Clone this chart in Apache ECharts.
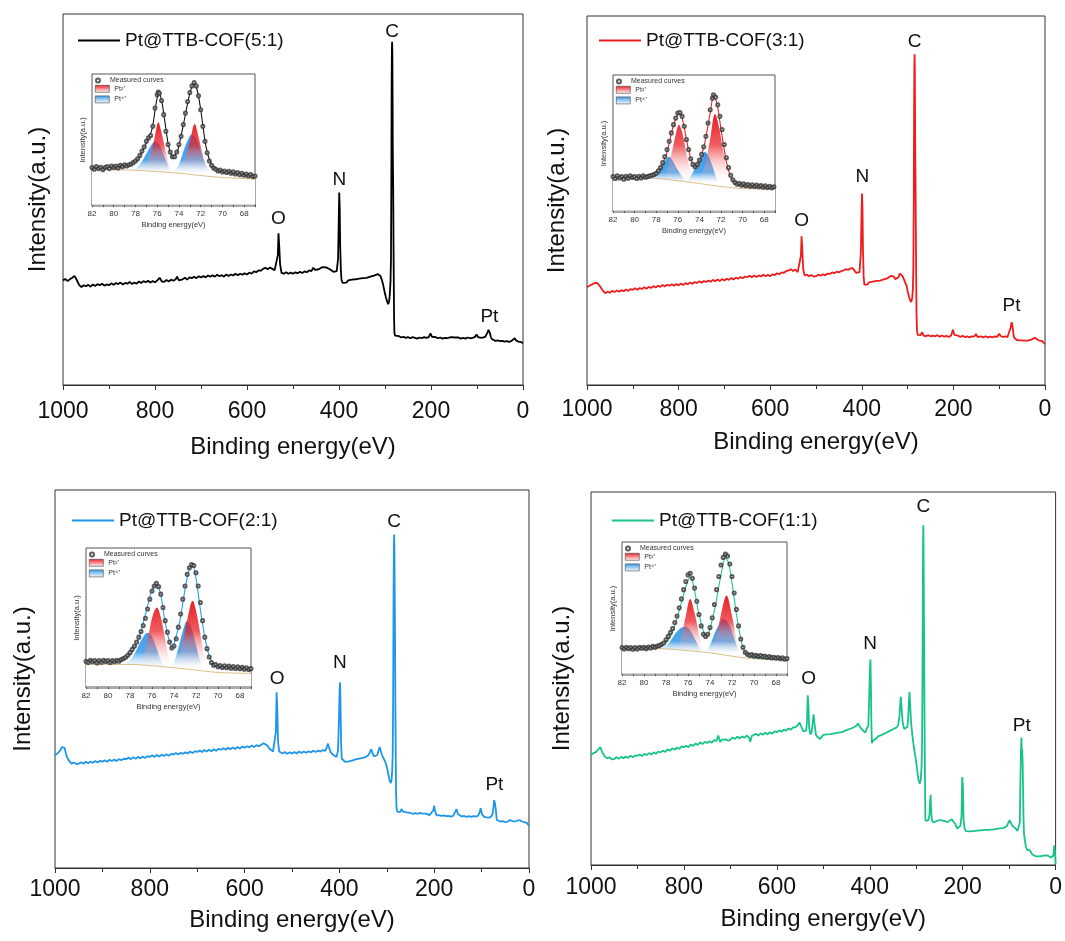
<!DOCTYPE html>
<html><head><meta charset="utf-8">
<script src="https://cdn.jsdelivr.net/npm/echarts@6/dist/echarts.min.js"></script>
<style>html,body{margin:0;padding:0;background:#fff}#c{width:1065px;height:941px}</style>
</head><body><div id="c"></div>
<script>
// ---------- DATA (binding energy eV, intensity as % of frame height) ----------
const sampleNames = ['Pt@TTB-COF(5:1)','Pt@TTB-COF(3:1)','Pt@TTB-COF(2:1)','Pt@TTB-COF(1:1)'];
const xTicks = [1000,800,600,400,200,0];
const insetTicks = [82,80,78,76,74,72,70,68];
const peakNames = ['O','N','C','Pt'];
const peakEnergies = [531.5,399,284.5,73];

const survey_5_1 = [[1000,28.2],[995,28.6],[990,28.0],[985,28.5],[980,28.9],[975,29.4],[970,28.3],[965,27.0],[960,26.4],[955,26.9],[950,26.6],[945,27.0],[940,26.5],[935,27.1],[930,26.7],[925,27.2],[920,26.9],[915,27.3],[910,26.8],[905,27.1],[900,26.9],[895,27.4],[890,27.0],[885,27.5],[880,27.2],[875,27.6],[870,27.1],[865,27.5],[860,27.3],[855,27.8],[850,27.2],[845,27.6],[840,27.3],[835,27.9],[830,27.5],[825,28.0],[820,27.7],[815,28.1],[810,27.6],[805,28.0],[800,27.7],[795,28.2],[790,28.9],[785,27.9],[780,27.8],[775,28.3],[770,27.9],[765,28.4],[760,28.1],[755,28.5],[752,29.2],[748,28.2],[740,28.5],[735,28.9],[730,28.4],[725,29.0],[720,28.8],[715,29.2],[710,28.8],[705,29.3],[700,29.0],[695,29.4],[690,29.0],[685,29.5],[680,29.2],[675,29.6],[670,29.2],[665,29.7],[660,29.3],[655,29.6],[650,29.2],[645,29.8],[640,29.4],[635,29.8],[630,29.5],[625,30.0],[620,29.6],[615,30.0],[610,29.7],[605,30.1],[600,29.8],[595,30.3],[590,30.0],[585,30.6],[580,30.4],[575,30.9],[570,30.8],[565,31.3],[560,31.6],[555,31.2],[550,31.7],[545,31.3],[540,30.9],[536,31.0],[533,35.0],[531.5,40.9],[530,37.5],[528,32.5],[525,30.2],[520,30.0],[515,30.4],[510,30.0],[505,30.3],[500,30.0],[495,30.4],[490,30.1],[485,30.5],[480,30.2],[475,30.6],[470,30.4],[465,30.9],[460,30.7],[456,31.6],[452,31.0],[448,30.8],[444,31.2],[440,31.0],[436,31.8],[432,31.5],[428,31.7],[424,31.4],[420,31.2],[416,30.8],[412,30.5],[408,30.2],[405,30.7],[402,34.0],[400.5,45.0],[399.5,51.9],[398.5,48.0],[397.5,38.0],[396,31.0],[394.5,28.3],[392,27.5],[388,28.0],[384,27.6],[380,28.2],[376,27.9],[372,28.4],[368,28.0],[364,28.5],[360,28.3],[356,28.7],[352,28.4],[348,28.8],[344,28.6],[340,28.9],[336,28.8],[332,29.2],[328,29.0],[324,29.5],[320,29.4],[316,29.9],[313,29.9],[310,29.4],[307,28.4],[304,27.0],[301,25.2],[298,23.6],[295,22.4],[293,21.8],[291,22.6],[289.5,24.5],[288,28.0],[287,34.0],[286.2,55.0],[285.6,80.0],[285,90.3],[284.5,92.5],[284,89.0],[283.5,78.0],[283.1,64.1],[282.6,58.0],[282.2,53.2],[281.6,40.0],[281,30.0],[280.3,18.1],[279.5,14.0],[278,13.3],[275,13.0],[270,13.2],[265,12.8],[260,13.0],[255,12.7],[250,12.9],[245,12.6],[240,12.9],[235,12.7],[230,12.5],[225,12.8],[220,12.6],[215,12.9],[210,12.7],[205,12.9],[201,13.9],[198,13.0],[195,12.7],[190,12.9],[185,12.6],[180,12.8],[175,12.5],[170,12.7],[165,12.6],[160,12.8],[155,12.9],[152,13.4],[149,12.8],[145,12.6],[140,12.8],[135,12.5],[130,12.7],[125,12.5],[120,12.8],[115,12.6],[110,12.7],[105,12.9],[101,13.6],[98,12.9],[94,12.8],[90,12.7],[86,12.9],[82,13.0],[79,13.4],[77,14.2],[75,14.9],[73.5,14.6],[72,14.0],[70,13.0],[68,12.4],[65,12.1],[60,11.9],[55,12.0],[50,11.8],[45,11.9],[40,11.7],[35,11.8],[30,11.6],[25,11.9],[21,12.4],[18,12.6],[15,12.0],[10,11.7],[5,11.6],[2,11.2],[0,11.3]];

const survey_3_1 = [[1000,26.5],[995,26.9],[990,27.2],[985,27.6],[978,27.7],[972,26.8],[965,25.5],[960,24.9],[955,25.3],[950,25.0],[945,25.5],[940,25.2],[935,25.6],[930,25.3],[925,25.7],[920,25.4],[915,25.9],[910,25.5],[905,26.0],[900,25.8],[895,26.2],[890,25.8],[885,26.3],[880,26.0],[875,26.5],[870,26.1],[865,26.6],[860,26.3],[855,26.8],[850,26.4],[845,26.9],[840,26.6],[835,27.1],[830,26.7],[825,27.2],[820,26.9],[815,27.3],[810,26.9],[805,27.4],[800,27.0],[795,27.5],[790,27.1],[785,27.6],[780,27.3],[775,27.8],[770,27.4],[765,27.9],[760,27.6],[755,28.1],[750,27.7],[745,28.2],[740,27.9],[735,28.3],[730,28.0],[725,28.5],[720,28.1],[715,28.6],[710,28.2],[705,28.7],[700,28.3],[695,28.8],[690,28.5],[685,29.0],[680,28.6],[675,29.1],[670,28.8],[665,29.3],[660,28.9],[655,29.4],[650,29.2],[645,29.6],[640,29.2],[635,29.7],[630,29.3],[625,29.7],[620,29.4],[615,29.9],[610,29.5],[605,29.9],[600,29.5],[595,30.0],[590,29.8],[585,30.3],[580,30.0],[575,30.5],[570,30.4],[565,30.9],[560,31.0],[555,31.4],[550,30.9],[545,31.3],[540,30.6],[536,30.8],[533,35.0],[531.5,40.3],[530,37.0],[528,31.5],[525,29.7],[520,29.9],[515,29.5],[510,29.8],[505,29.4],[500,29.5],[495,29.9],[490,29.6],[485,30.0],[480,29.7],[475,30.2],[470,30.1],[465,30.5],[460,30.3],[455,30.7],[450,30.5],[445,30.9],[440,31.0],[435,31.4],[430,31.2],[425,31.6],[420,31.7],[416,31.0],[412,30.4],[408,30.1],[405,30.6],[402,36.0],[400.5,47.0],[399.5,51.9],[398.5,48.0],[397.5,37.0],[396,29.5],[394.5,27.2],[392,27.6],[388,27.2],[384,27.8],[380,27.5],[376,28.0],[372,27.7],[368,28.2],[364,27.9],[360,28.3],[356,28.1],[352,28.6],[348,28.4],[344,28.9],[340,29.0],[336,29.6],[333,30.1],[330,29.4],[327,28.7],[324,28.5],[320,29.2],[317,30.2],[314,30.6],[311,29.5],[308,28.6],[305,28.1],[302,26.8],[300,25.4],[297,24.0],[295,23.1],[292,22.5],[290,23.5],[288.5,26.0],[287.5,31.0],[286.5,50.0],[285.8,75.0],[285.2,87.0],[284.7,89.6],[284.2,85.0],[283.7,72.0],[283.2,61.6],[282.6,55.0],[282,42.0],[281.3,30.0],[280.5,19.0],[279.5,14.8],[278,13.6],[275,13.8],[272,13.5],[268,14.3],[265,13.4],[260,13.2],[255,13.5],[250,13.2],[245,13.4],[240,13.2],[235,13.5],[230,13.1],[225,13.4],[220,13.1],[215,13.3],[210,13.0],[205,13.4],[201,15.0],[198,13.6],[195,13.1],[190,13.4],[185,13.0],[180,13.3],[175,13.0],[170,13.2],[165,12.9],[160,13.2],[155,13.1],[151,13.8],[147,13.0],[140,13.2],[135,12.9],[130,13.2],[125,12.9],[120,13.1],[115,12.9],[110,13.2],[105,13.0],[100,13.9],[97,13.3],[92,13.0],[87,13.2],[82,13.0],[78,13.4],[75,15.5],[73,17.0],[71.5,16.4],[70,15.0],[68,13.0],[66,12.6],[62,12.2],[58,12.4],[54,12.1],[50,12.3],[46,12.0],[42,12.2],[38,12.0],[34,12.2],[30,12.3],[26,12.7],[22,12.8],[18,12.4],[14,12.1],[10,12.0],[6,11.9],[3,11.5],[0,11.1]];

const survey_2_1 = [[1000,29.8],[995,30.3],[990,30.9],[985,32.0],[980,31.8],[975,29.4],[970,28.3],[965,27.6],[960,27.9],[955,27.5],[950,27.6],[945,28.0],[940,27.6],[935,28.1],[930,27.7],[925,28.2],[920,27.8],[915,28.3],[910,27.9],[905,28.4],[900,28.1],[895,28.5],[890,28.1],[885,28.6],[880,28.3],[875,28.7],[870,28.3],[865,28.8],[860,28.5],[855,28.9],[850,28.8],[845,29.2],[840,28.8],[835,29.3],[830,28.9],[825,29.4],[820,29.0],[815,29.5],[810,29.1],[805,29.6],[800,29.4],[795,29.8],[790,29.4],[785,29.9],[780,29.5],[775,30.0],[770,29.6],[765,30.1],[760,29.7],[755,30.2],[750,30.0],[745,30.4],[740,30.0],[735,30.5],[730,30.2],[725,30.6],[720,30.3],[715,30.8],[710,30.4],[705,30.9],[700,30.7],[695,31.1],[690,30.7],[685,31.2],[680,30.8],[675,31.3],[670,30.9],[665,31.4],[660,31.0],[655,31.5],[650,31.3],[645,31.7],[640,31.3],[635,31.8],[630,31.4],[625,31.9],[620,31.5],[615,32.0],[610,31.6],[605,32.1],[600,31.8],[595,32.2],[590,31.9],[585,32.4],[580,32.0],[575,32.5],[570,32.2],[565,32.6],[560,33.0],[556,33.2],[552,32.4],[548,31.6],[544,31.1],[540,30.8],[536,31.2],[534,36.0],[532.5,46.5],[531,42.0],[529.5,33.5],[527,30.8],[524,30.5],[520,30.3],[515,30.7],[510,30.2],[505,30.6],[500,30.3],[495,30.7],[490,30.3],[485,30.8],[480,30.4],[475,30.8],[470,30.5],[465,30.9],[460,30.6],[455,31.0],[450,30.7],[445,31.1],[440,30.8],[435,31.2],[430,31.0],[427,31.8],[424,32.9],[421,31.5],[418,30.6],[414,30.0],[410,29.6],[406,29.4],[403,31.0],[401,39.0],[399.5,47.5],[398.5,49.1],[397.5,42.0],[396.5,33.0],[395,28.9],[392,28.5],[388,28.1],[384,28.4],[380,28.2],[376,28.6],[372,28.5],[368,28.9],[364,28.8],[360,29.1],[356,29.0],[352,29.4],[348,29.2],[344,29.6],[340,29.7],[336,30.5],[333,31.4],[330,30.3],[327,29.5],[323,29.3],[320,29.9],[317,31.2],[315,32.0],[312,30.6],[309,29.5],[306,28.8],[303,28.0],[300,26.8],[297,25.0],[295,23.7],[292,22.4],[290,23.2],[288.5,26.0],[287.5,30.5],[286.6,45.0],[285.8,70.0],[285.1,84.0],[284.5,88.2],[284,85.0],[283.5,76.0],[283,67.5],[282.5,58.0],[282,46.0],[281.3,32.0],[280.5,20.0],[279.5,16.0],[278,14.9],[275,15.1],[272,14.8],[269,15.6],[266,14.9],[262,14.5],[258,14.7],[254,14.4],[250,14.6],[245,14.3],[240,14.5],[235,14.3],[230,14.6],[225,14.4],[222,14.8],[218,14.4],[214,14.1],[210,14.0],[206,14.3],[202,15.2],[200,16.5],[198,15.0],[195,13.9],[190,14.0],[185,13.8],[180,13.9],[175,13.7],[170,13.8],[165,13.6],[160,13.8],[156,14.2],[153,15.6],[150,14.3],[147,13.8],[142,13.6],[137,13.8],[132,13.5],[127,13.7],[122,13.5],[117,13.7],[112,13.6],[107,13.9],[104,14.8],[102,15.8],[99,14.2],[95,13.6],[90,13.4],[85,13.3],[80,13.6],[77,14.2],[75,16.0],[73.5,18.0],[72,17.2],[70,15.5],[68,12.7],[65,12.5],[60,12.3],[55,12.4],[50,12.1],[45,12.3],[40,12.7],[35,12.4],[30,12.3],[25,12.5],[20,12.7],[15,12.3],[10,12.1],[5,12.0],[2,11.5],[0,11.2]];

const survey_1_1 = [[1000,29.5],[995,30.0],[990,30.2],[985,30.9],[980,31.6],[975,30.0],[970,29.0],[965,28.6],[960,28.9],[955,28.3],[950,28.4],[945,28.9],[940,28.5],[935,29.0],[930,28.6],[925,29.1],[920,28.7],[915,29.3],[910,28.9],[905,29.4],[900,29.3],[895,29.6],[890,29.2],[885,29.8],[880,29.5],[875,30.0],[870,29.6],[865,30.2],[860,29.8],[855,30.4],[850,30.2],[845,30.7],[840,30.3],[835,31.0],[830,30.6],[825,31.3],[820,30.9],[815,31.5],[810,31.1],[805,31.8],[800,31.6],[795,32.0],[790,31.6],[785,32.3],[780,31.9],[775,32.6],[770,32.2],[765,32.9],[760,32.4],[755,33.0],[750,32.7],[745,33.2],[740,32.8],[735,33.5],[730,33.2],[726,34.7],[722,33.0],[718,33.6],[714,33.1],[710,33.7],[705,33.3],[700,33.6],[695,34.2],[690,33.8],[685,34.4],[680,33.9],[675,34.5],[670,34.1],[665,34.7],[660,34.2],[657,33.0],[654,34.6],[650,34.8],[645,35.2],[640,34.7],[635,35.3],[630,34.9],[625,35.5],[620,35.0],[615,35.6],[610,35.2],[605,35.8],[600,35.6],[595,36.1],[590,35.7],[585,36.3],[580,36.0],[575,36.6],[570,36.3],[565,36.9],[560,36.9],[555,37.5],[551,38.2],[547,37.0],[543,35.8],[540,35.5],[537,36.0],[535,38.5],[533.5,45.5],[532,43.0],[530.5,37.0],[528,35.0],[525,35.6],[522.5,38.5],[521,40.4],[519,38.0],[516,35.0],[513,34.4],[510,34.0],[507,33.8],[504,34.3],[500,34.9],[496,34.5],[492,35.0],[488,34.6],[484,35.1],[480,34.9],[476,35.3],[472,34.9],[468,35.5],[464,35.1],[460,35.6],[456,35.6],[452,36.1],[448,35.8],[444,36.4],[440,36.4],[436,36.8],[432,37.1],[428,37.4],[425,38.0],[422,37.2],[418,36.5],[414,36.2],[410,35.5],[406,35.6],[403,37.5],[401,46.0],[399.5,53.0],[398.5,55.1],[397.5,48.0],[396.5,38.0],[395.5,32.7],[393,33.3],[390,33.6],[386,33.9],[382,34.5],[378,34.3],[374,34.9],[370,34.8],[366,35.4],[362,35.3],[358,35.9],[354,35.8],[350,36.4],[346,36.5],[342,36.9],[339,37.5],[336,40.0],[334,44.0],[333,45.1],[331.5,42.0],[329,38.0],[326,36.5],[322,36.0],[319,37.0],[317,40.0],[315.5,44.5],[314.5,46.4],[313,43.0],[311,38.0],[308,34.5],[305,31.5],[302,29.2],[300,27.6],[297,24.5],[295,22.7],[292,21.8],[290,23.0],[288.5,26.5],[287.5,31.5],[286.6,48.0],[285.8,72.0],[285.2,87.0],[284.7,91.1],[284.2,86.0],[283.6,72.0],[283,58.7],[282.4,45.0],[281.6,30.0],[281,21.0],[280.3,12.4],[279,11.8],[277,11.6],[274,12.0],[271.5,13.5],[270,17.0],[269,18.8],[268,15.0],[266.5,12.0],[263,11.4],[260,11.4],[256,11.8],[252,11.6],[248,12.0],[244,11.7],[240,11.8],[236,12.1],[232,11.5],[228,11.9],[224,12.3],[220,12.0],[216,11.0],[212,9.8],[208,10.2],[205,10.5],[202.5,13.0],[201,23.6],[199.5,21.0],[198,12.0],[196,9.8],[193,9.1],[189,9.4],[185,9.0],[181,9.3],[177,9.1],[173,9.4],[169,9.2],[165,9.5],[161,9.3],[157,9.6],[153,9.4],[149,9.6],[145,9.4],[141,9.7],[137,9.5],[133,9.8],[129,9.6],[125,9.9],[121,9.8],[117,10.0],[113,9.9],[109,10.1],[105,10.4],[102,11.2],[99,12.0],[96,11.6],[93,10.5],[90,10.7],[86,9.8],[82,9.1],[79,9.6],[77,11.5],[75.5,25.0],[74.5,30.4],[73.5,34.2],[72.8,30.0],[72,31.1],[71,28.0],[70,20.4],[69,12.0],[68,8.4],[66,6.5],[64,4.9],[61,4.0],[58,3.6],[56,4.0],[54,4.4],[52,3.5],[50,2.8],[46,2.4],[42,2.3],[38,2.1],[34,2.3],[30,2.7],[26,2.5],[22,2.9],[18,2.6],[14,2.1],[10,2.0],[7,1.9],[5,2.5],[3,5.2],[1.5,3.6],[0,0.2]];

// ---- Pt 4f insets (eV, intensity % of inset height) ----
const measured_5_1 = [[82,28.4],[81.8,27.1],[81.6,29.1],[81.4,27.6],[81.2,28.6],[81,26.8],[80.8,28.4],[80.6,29.1],[80.4,27.6],[80.2,29.6],[80,28.4],[79.8,29.6],[79.6,28.1],[79.4,30.1],[79.2,29.1],[79,30.6],[78.8,29.6],[78.6,30.6],[78.4,31.1],[78.2,32.2],[78,33.4],[77.8,35.2],[77.6,37.7],[77.4,41.0],[77.2,44.3],[77,48.6],[76.8,51.1],[76.6,52.9],[76.4,60.0],[76.2,73.9],[76,84.1],[75.9,86.1],[75.8,85.3],[75.6,79.7],[75.4,68.9],[75.2,56.2],[75,46.1],[74.8,40.3],[74.6,36.7],[74.4,36.7],[74.2,40.3],[74,46.1],[73.8,52.4],[73.6,61.3],[73.4,70.1],[73.2,79.0],[73,85.8],[72.8,90.9],[72.6,93.4],[72.4,90.9],[72.2,83.3],[72,72.7],[71.8,60.0],[71.6,48.6],[71.4,39.7],[71.2,33.4],[71,30.1],[70.8,28.1],[70.6,27.1],[70.4,25.8],[70.2,26.6],[70,25.1],[69.8,25.8],[69.6,24.6],[69.4,25.6],[69.2,24.1],[69,25.1],[68.8,23.5],[68.6,24.6],[68.4,23.0],[68.2,24.1],[68,22.5],[67.8,23.5],[67.6,22.0],[67.4,23.0],[67.2,21.5],[67,22.0]];
const fit_5_1 = [[82,28.5],[81,28.4],[80,28.7],[79,29.6],[78.5,30.6],[78,33],[77.5,38.5],[77,47],[76.5,57],[76.2,72],[76,82],[75.85,85.5],[75.6,80],[75.3,64],[75,47],[74.7,38],[74.5,37],[74.2,40],[74,45],[73.5,65],[73,85],[72.6,92.5],[72.3,87],[72,73],[71.5,44],[71,30.5],[70.5,26.5],[70,25.3],[69,24.4],[68,23.2],[67,22.2]];
const pt2_5_1 = [[78,26.3],[77.5,27.5],[77,31],[76.5,42],[76.2,53],[75.9,63],[75.6,55],[75.2,40],[74.8,28],[74.6,24.5],[74.2,25],[74,27],[73.5,34],[73,48],[72.55,61.8],[72.2,52],[71.8,38],[71.4,27],[71,22.5],[70.5,21.2]];
const pt4_5_1 = [[78.5,26.6],[78,27.5],[77.5,32],[77,39],[76.5,46],[76.2,48.6],[75.8,46],[75.4,38],[75,30],[74.7,24.4],[74.5,25.5],[74,31],[73.5,43],[73,52.5],[72.8,53.7],[72.4,50],[72,42],[71.5,30],[71,23],[70.5,21]];
const bg_5_1 = [[82,27.1],[80,26.8],[78,26.3],[76,25.3],[74,24.1],[72,22.3],[70,20.8],[68,20.0],[67,19.5]];

const measured_3_1 = [[82,25.1],[81.8,23.7],[81.6,25.6],[81.4,24.1],[81.2,25.1],[81,23.2],[80.8,25.4],[80.6,23.9],[80.4,25.6],[80.2,24.4],[80,25.1],[79.8,23.7],[79.6,25.4],[79.4,24.1],[79.2,25.6],[79,24.6],[78.8,25.1],[78.6,25.6],[78.4,26.1],[78.2,26.6],[78,27.6],[77.8,29.3],[77.6,31.7],[77.4,35.4],[77.2,39.8],[77,45.1],[76.8,51.2],[76.6,57.3],[76.4,63.4],[76.2,68.3],[76,72.0],[75.8,72.4],[75.6,69.5],[75.4,62.2],[75.2,52.4],[75,45.1],[74.8,38.3],[74.6,34.1],[74.4,32.4],[74.2,34.1],[74,37.3],[73.8,41.5],[73.6,47.1],[73.4,54.9],[73.2,64.6],[73,74.4],[72.8,82.9],[72.7,85.4],[72.5,83.7],[72.3,78.0],[72.1,69.5],[71.9,59.8],[71.7,48.8],[71.5,39.0],[71.3,31.7],[71.1,26.1],[70.9,22.7],[70.7,20.7],[70.5,19.5],[70.3,20.2],[70.1,18.8],[69.9,19.8],[69.7,18.3],[69.5,19.3],[69.3,18.0],[69.1,19.0],[68.9,17.8],[68.7,18.8],[68.5,17.6],[68.3,18.5],[68.1,17.3],[67.9,18.3],[67.7,17.1],[67.5,18.0],[67.3,16.8],[67.1,17.6]];
const fit_3_1 = [[82,25],[80,25],[79,25.5],[78.5,26.5],[78,28.5],[77.5,33],[77,43],[76.5,60],[76,71],[75.8,72],[75.5,65],[75,45],[74.5,33],[74.2,33.5],[74,36],[73.5,50],[73,72],[72.7,84],[72.4,80],[72,60],[71.5,36],[71,23],[70.5,19],[70,18],[69,17.5],[68,17],[67,16.8]];
const pt2_3_1 = [[77.5,23.8],[77,30],[76.5,45],[76.2,56],[75.9,63.4],[75.6,58],[75.2,42],[74.8,28],[74.5,21.2],[74,24],[73.5,33],[73,53],[72.55,71.2],[72.2,62],[71.8,44],[71.4,28],[71,19.5],[70.5,17]];
const pt4_3_1 = [[78.5,24],[78,27],[77.5,33],[77,38.5],[76.8,39.8],[76.5,37],[76,30],[75.5,24],[75.2,21.8],[75,23],[74.5,30],[74,38],[73.5,43.2],[73.2,41],[72.8,33],[72.4,24],[72,19],[71.5,17.5]];
const bg_3_1 = [[82,24.4],[80,24.2],[78,23.7],[76,22.0],[74,20.0],[72,17.8],[70,16.3],[68,16.0],[67,15.9]];

const measured_2_1 = [[82,18.3],[81.8,17.4],[81.6,19.0],[81.4,17.9],[81.2,18.8],[81,17.1],[80.8,18.8],[80.6,17.6],[80.4,19.0],[80.2,18.1],[80,18.8],[79.8,17.4],[79.6,18.8],[79.4,17.9],[79.2,19.0],[79,18.3],[78.8,19.5],[78.6,20.2],[78.4,21.2],[78.2,22.6],[78,24.5],[77.8,26.9],[77.6,29.3],[77.4,32.1],[77.2,35.7],[77,39.8],[76.8,44.0],[76.6,49.3],[76.4,56.0],[76.2,63.1],[76,69.0],[75.8,72.6],[75.6,74.5],[75.4,72.1],[75.2,66.7],[75,57.1],[74.8,47.6],[74.6,39.3],[74.4,32.1],[74.2,27.9],[74,29.3],[73.8,34.5],[73.6,42.9],[73.4,52.4],[73.2,63.1],[73,72.6],[72.8,81.0],[72.6,85.7],[72.4,88.1],[72.2,87.4],[72,82.1],[71.8,72.6],[71.6,60.7],[71.4,47.6],[71.2,35.7],[71,27.4],[70.8,21.4],[70.6,17.4],[70.4,15.5],[70.2,16.0],[70,14.3],[69.8,15.2],[69.6,13.8],[69.4,15.0],[69.2,13.6],[69,14.8],[68.8,13.3],[68.6,14.5],[68.4,13.1],[68.2,14.3],[68,12.9],[67.8,14.0],[67.6,12.6],[67.4,13.6],[67.2,12.4],[67,13.1]];
const fit_2_1 = [[82,18],[80,18],[79,18.5],[78.5,20],[78,23],[77.5,29],[77,40],[76.5,55],[76,70],[75.6,74],[75.2,66],[74.8,46],[74.4,32],[74.2,29],[74,31],[73.5,46],[73,70],[72.6,85],[72.3,87],[72,78],[71.5,50],[71,28],[70.5,17],[70,14.5],[69,13.5],[68,13],[67,12.5]];
const pt2_2_1 = [[77,16],[76.5,30],[76.2,42],[75.9,52],[75.55,57.1],[75.2,50],[74.8,34],[74.4,18],[74.1,13.5],[73.6,20],[73.2,32],[72.8,48],[72.3,61.9],[72,55],[71.6,38],[71.2,20],[70.8,12],[70.4,10.5]];
const pt4_2_1 = [[78.5,16],[78,19],[77.5,25],[77,33],[76.4,38.8],[76,36],[75.6,28],[75.2,19],[74.8,14.5],[74.4,14],[74,18],[73.6,28],[73.2,40],[72.8,47.6],[72.4,42],[72,30],[71.6,18],[71.2,12],[70.8,10.5]];
const bg_2_1 = [[82,16.0],[80,16.0],[78,16.0],[76,15.0],[74,13.6],[72,11.9],[70,10.2],[68,9.7],[67,9.5]];

const measured_1_1 = [[82,19.8],[81.8,18.8],[81.6,20.0],[81.4,19.0],[81.2,19.8],[81,18.5],[80.8,19.8],[80.6,18.8],[80.4,20.0],[80.2,19.3],[80,20.0],[79.8,19.0],[79.6,20.3],[79.4,19.5],[79.2,20.8],[79,20.0],[78.8,21.0],[78.6,21.3],[78.4,22.3],[78.2,23.3],[78,25.8],[77.8,28.3],[77.6,31.3],[77.4,34.3],[77.2,38.8],[77,43.8],[76.8,50.0],[76.6,56.8],[76.4,63.8],[76.2,70.0],[76,75.0],[75.8,76.3],[75.6,72.5],[75.4,65.0],[75.2,55.0],[75,45.0],[74.8,36.3],[74.6,30.0],[74.4,28.3],[74.2,30.0],[74,35.0],[73.8,42.5],[73.6,52.5],[73.4,63.8],[73.2,73.8],[73,82.5],[72.8,88.3],[72.6,90.8],[72.4,89.3],[72.2,83.3],[72,73.8],[71.8,61.3],[71.6,48.8],[71.4,36.3],[71.2,26.3],[71,20.0],[70.8,16.3],[70.6,14.8],[70.4,14.0],[70.2,14.5],[70,13.5],[69.8,14.0],[69.6,13.0],[69.4,13.8],[69.2,12.8],[69,13.3],[68.8,12.3],[68.6,13.0],[68.4,12.0],[68.2,12.5],[68,11.8],[67.8,12.3],[67.6,11.3],[67.4,12.0],[67.2,11.0],[67,11.5]];
const fit_1_1 = [[82,19.5],[80,19.5],[79,20],[78.5,21],[78,24],[77.5,30],[77,42],[76.5,57],[76,71],[75.8,73],[75.5,67],[75,45],[74.5,30],[74.3,29],[74,34],[73.5,52],[73,75],[72.6,88],[72.3,84],[72,69],[71.5,40],[71,20],[70.5,13],[70,12],[69,11.5],[68,11],[67,10.8]];
const pt2_1_1 = [[77.2,18.5],[77,19.5],[76.6,28],[76.2,44],[75.8,56.8],[75.4,46],[75,30],[74.6,17],[74.3,16],[73.8,19],[73.4,29],[73,45],[72.5,59.3],[72,44],[71.6,26],[71.2,15],[70.8,12]];
const pt4_1_1 = [[78.5,19],[78,21],[77.5,26],[77,32],[76.3,35.8],[75.8,33],[75.3,25],[74.8,17.5],[74.5,16.2],[74,22],[73.5,32],[73,40],[72.75,41.8],[72.3,38],[71.8,27],[71.3,16],[70.8,12]];
const bg_1_1 = [[82,19.3],[80,19.1],[78,18.8],[76,17.5],[74,15.8],[72,13.3],[70,11.3],[68,10.9],[67,10.8]];

// ---------- LAYOUT / STYLE ----------
const FONT = '"Liberation Sans", Arial, Helvetica, sans-serif';
const panels = [
  {name:sampleNames[0], color:'#000000', fit:'#111111', survey:survey_5_1, meas:measured_5_1, fitD:fit_5_1, pt2:pt2_5_1, pt4:pt4_5_1, bg:bg_5_1,
   grid:{left:63,top:14,width:460,height:371}, inset:{left:92,top:74,width:163,height:132},
   lab:{margin:15,gap:50,ygap:13}, leg:{left:78,top:31}, dist:[4.5,2.5,0,2.5]},
  {name:sampleNames[1], color:'#ee1c1c', fit:'#e8232a', survey:survey_3_1, meas:measured_3_1, fitD:fit_3_1, pt2:pt2_3_1, pt4:pt4_3_1, bg:bg_3_1,
   grid:{left:587,top:16,width:458,height:369}, inset:{left:613,top:75,width:162,height:137},
   lab:{margin:13,gap:45,ygap:18}, leg:{left:599,top:31}, dist:[5.5,6.5,2.5,6.5]},
  {name:sampleNames[2], color:'#1e96ea', fit:'#2aa0f0', survey:survey_2_1, meas:measured_2_1, fitD:fit_2_1, pt2:pt2_2_1, pt4:pt4_2_1, bg:bg_2_1,
   grid:{left:55,top:490,width:474,height:378}, inset:{left:86,top:548,width:165,height:140},
   lab:{margin:10,gap:40,ygap:20}, leg:{left:72,top:511}, dist:[3.5,10,2.5,5.5]},
  {name:sampleNames[3], color:'#17c38b', fit:'#20c890', survey:survey_1_1, meas:measured_1_1, fitD:fit_1_1, pt2:pt2_1_1, pt4:pt4_1_1, bg:bg_1_1,
   grid:{left:591,top:492,width:469,height:373}, inset:{left:622,top:542,width:165,height:133},
   lab:{margin:11,gap:42,ygap:17}, leg:{left:612,top:511}, dist:[6.5,5.5,8.5,1.5]}
];

function peakValue(data, x){
  let best = -Infinity;
  data.forEach(p => { if (Math.abs(p[0]-x) <= 2.5 && p[1] > best) best = p[1]; });
  return best;
}
function maxOf(d){ return Math.max.apply(null, d.map(p=>p[1])); }
function meanOf(d){ return d.reduce((s,p)=>s+p[1],0)/d.length; }
function fade(rgb, stop, mid, midAlpha, endAlpha){
  const s = Math.max(0.1,Math.min(0.95,stop));
  return new echarts.graphic.LinearGradient(0,0,0,1,[
    {offset:0, color:'rgba('+rgb+',1)'},
    {offset:s*mid, color:'rgba('+rgb+','+midAlpha+')'},
    {offset:s, color:'rgba(255,255,255,'+endAlpha+')'},
    {offset:1, color:'rgba(255,255,255,0)'}]);
}
const RED='234,30,36', BLUE='52,152,232';

const grid=[], xAxis=[], yAxis=[], series=[], legend=[];
panels.forEach((p,i)=>{
  grid.push(Object.assign({show:true, borderColor:'#333', borderWidth:1, backgroundColor:'#fff'}, p.grid));
  xAxis.push({type:'value', gridIndex:i, min:0, max:1000, interval:200, inverse:true,
    name:'Binding energy(eV)', nameLocation:'middle', nameGap:p.lab.gap,
    nameTextStyle:{fontSize:24, color:'#111', fontFamily:FONT},
    axisLine:{show:true, lineStyle:{color:'#333', width:1}},
    axisTick:{show:true, length:5, lineStyle:{color:'#333'}},
    minorTick:{show:true, splitNumber:2, length:4, lineStyle:{color:'#333'}},
    splitLine:{show:false},
    axisLabel:{fontSize:23, color:'#111', fontFamily:FONT, margin:p.lab.margin,
      formatter:v=> xTicks.indexOf(v)>=0 ? String(v) : ''}});
  yAxis.push({type:'value', gridIndex:i, min:0, max:100,
    name:'Intensity(a.u.)', nameLocation:'middle', nameGap:p.lab.ygap,
    nameTextStyle:{fontSize:24, color:'#111', fontFamily:FONT},
    axisLine:{show:false}, axisTick:{show:false}, axisLabel:{show:false}, splitLine:{show:false}});
  series.push({type:'line', name:p.name, xAxisIndex:i, yAxisIndex:i, data:p.survey,
    showSymbol:false, symbol:'none', lineStyle:{color:p.color, width:1.8}, itemStyle:{color:p.color},
    z:2, silent:true,
    markPoint:{symbol:'circle', symbolSize:1, itemStyle:{color:'rgba(0,0,0,0)'},
      label:{show:true, position:'top', formatter:'{b}', fontSize:19, color:'#111', fontFamily:FONT},
      data: peakNames.map((n,k)=>({name:n, coord:[peakEnergies[k], peakValue(p.survey, peakEnergies[k])],
        label:{distance:p.dist[k]}}))}});
  legend.push({left:p.leg.left, top:p.leg.top, padding:0, selectedMode:false, itemWidth:42, itemHeight:2,
    textStyle:{fontSize:19, color:'#111', fontFamily:FONT},
    data:[{name:p.name, icon:'rect'}]});
});
panels.forEach((p,i)=>{
  const gi = 4+i;
  grid.push(Object.assign({show:true, borderColor:'#555', borderWidth:1, backgroundColor:'#fff'}, p.inset));
  xAxis.push({type:'value', gridIndex:gi, min:67, max:82, interval:1, inverse:true,
    name:'Binding energy(eV)', nameLocation:'middle', nameGap:15,
    nameTextStyle:{fontSize:7.5, color:'#333', fontFamily:FONT},
    axisLine:{show:true, lineStyle:{color:'#555', width:1}},
    axisTick:{show:true, length:2.5, lineStyle:{color:'#555'}},
    splitLine:{show:false},
    axisLabel:{fontSize:8, color:'#333', fontFamily:FONT, margin:4,
      formatter:v=> insetTicks.indexOf(v)>=0 ? String(v) : ''}});
  yAxis.push({type:'value', gridIndex:gi, min:-1, max:100,
    name:'Intensity(a.u.)', nameLocation:'middle', nameGap:5,
    nameTextStyle:{fontSize:7.5, color:'#333', fontFamily:FONT},
    axisLine:{show:false}, axisTick:{show:false}, axisLabel:{show:false}, splitLine:{show:false}});
  const bgMean = meanOf(p.bg);
  series.push({type:'line', name:'Pt⁴⁺', xAxisIndex:gi, yAxisIndex:gi, data:p.pt4, smooth:0.35,
    showSymbol:false, symbol:'none', lineStyle:{width:0}, itemStyle:{color:'rgb('+BLUE+')'},
    areaStyle:{color:fade(BLUE, 1-bgMean/maxOf(p.pt4), 0.65, 0.85, 0.2), opacity:1}, z:3, silent:true});
  series.push({type:'line', name:'Pt²⁺', xAxisIndex:gi, yAxisIndex:gi, data:p.pt2, smooth:0.35,
    showSymbol:false, symbol:'none', lineStyle:{width:0}, itemStyle:{color:'rgb('+RED+')'},
    areaStyle:{color:fade(RED, 1-bgMean/maxOf(p.pt2), 0.45, 0.72, 0), opacity:1}, z:4, silent:true});
  series.push({type:'line', name:'background '+i, xAxisIndex:gi, yAxisIndex:gi, data:p.bg, smooth:0.4,
    showSymbol:false, symbol:'none', lineStyle:{width:0.9, color:'#d9b77c'},
    areaStyle:{color:'#ffffff', opacity:1}, z:5, silent:true});
  series.push({type:'line', name:'fit '+i, xAxisIndex:gi, yAxisIndex:gi, data:p.fitD, smooth:0.3,
    showSymbol:false, symbol:'none', lineStyle:{width:1.1, color:p.fit}, z:6, silent:true});
  series.push({type:'scatter', name:'Measured curves', xAxisIndex:gi, yAxisIndex:gi, data:p.meas,
    symbol:'emptyCircle', symbolSize:3.1, itemStyle:{color:'#333', borderWidth:0.55}, z:7, silent:true});
  legend.push({left:p.inset.left+3, top:p.inset.top+3, padding:0, selectedMode:false, itemWidth:14, itemHeight:4,
    textStyle:{fontSize:7, color:'#333', fontFamily:FONT}, data:[{name:'Measured curves', icon:'emptyCircle'}]});
  legend.push({left:p.inset.left+3, top:p.inset.top+11, padding:0, selectedMode:false, orient:'vertical',
    itemWidth:14, itemHeight:7, itemGap:3, textStyle:{fontSize:7, color:'#333', fontFamily:FONT},
    data:[{name:'Pt²⁺', icon:'rect', itemStyle:{color:new echarts.graphic.LinearGradient(0,0,0,1,[{offset:0,color:'rgb('+RED+')'},{offset:1,color:'#ffffff'}]), borderColor:'#444', borderWidth:0.6}},
          {name:'Pt⁴⁺', icon:'rect', itemStyle:{color:new echarts.graphic.LinearGradient(0,0,0,1,[{offset:0,color:'rgb('+BLUE+')'},{offset:1,color:'#ffffff'}]), borderColor:'#444', borderWidth:0.6}}]});
});

const chart = echarts.init(document.getElementById('c'), null, {renderer:'canvas'});
chart.setOption({animation:false, backgroundColor:'#fff', textStyle:{fontFamily:FONT},
  grid, xAxis, yAxis, series, legend});
</script></body></html>
